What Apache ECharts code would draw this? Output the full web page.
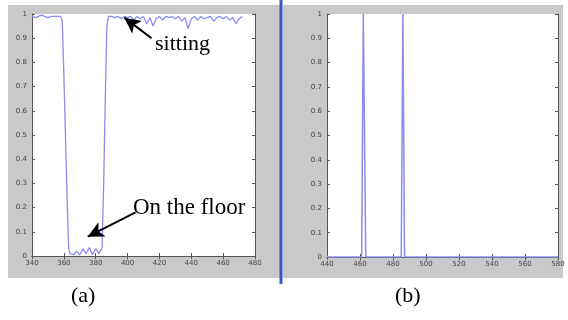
<!DOCTYPE html>
<html><head><meta charset="utf-8">
<script src="https://cdn.jsdelivr.net/npm/echarts@6/dist/echarts.min.js"></script>
<style>html,body{margin:0;padding:0;background:#fff}#c{width:568px;height:320px}</style>
</head><body><div id="c"></div>
<script>
const leftX = [340,342,344,346,348,350,352,354,356,358,359,360,361,362,363,364,366,368,370,372,374,376,378,380,382,384,385,386,387,388,390,392,394,396,398,400,402,404,406,408,410,412,414,416,418,420,422,424,426,428,430,432,434,436,438,440,442,444,446,448,450,452,454,456,458,460,462,464,466,468,470,472];
const leftY = [0.99,0.985,0.99,0.995,0.99,0.985,0.99,0.99,0.99,0.99,0.97,0.75,0.5,0.25,0.03,0.01,0.005,0.02,0.005,0.03,0.01,0.035,0.005,0.03,0.01,0.035,0.3,0.65,0.95,0.99,0.99,0.985,0.99,0.98,0.99,0.985,0.99,0.975,0.99,0.98,0.99,0.96,0.985,0.95,0.98,0.99,0.975,0.99,0.985,0.99,0.98,0.99,0.97,0.985,0.94,0.98,0.99,0.975,0.99,0.98,0.985,0.99,0.97,0.985,0.99,0.98,0.99,0.975,0.985,0.96,0.98,0.99];
const rightX = [440,461,462,463.5,485,486,487,580];
const rightY = [0,0,1,0,0,1,0,0];
const leftTicks = [340,480,20];
const rightTicks = [440,580,20];
const yTicks = [0,1,0.1];
const labels = {a:'(a)', b:'(b)', sitting:'sitting', floor:'On the floor'};

const lineColor = '#8c8cf2';
function pairs(xs, ys){ return xs.map((x,i)=>[x, ys[i]]); }
function xAx(g, t, pos, show){
  return {type:'value', gridIndex:g, position:pos, min:t[0], max:t[1], interval:t[2],
    axisLine:{show:true, lineStyle:{color:'#555', width:1}},
    axisTick:{show:true, inside:true, length:3, lineStyle:{color:'#555'}},
    axisLabel:{show:show, fontSize:7, color:'#444', margin:4, fontFamily:'DejaVu Sans'},
    splitLine:{show:false}};
}
function yAx(g, pos, show){
  return {type:'value', gridIndex:g, position:pos, min:yTicks[0], max:yTicks[1], interval:yTicks[2],
    axisLine:{show:true, lineStyle:{color:'#555', width:1}},
    axisTick:{show:true, inside:true, length:3, lineStyle:{color:'#555'}},
    axisLabel:{show:show, fontSize:7, color:'#444', margin:5, fontFamily:'DejaVu Sans',
      formatter: v => (Math.round(v*10)/10).toString()},
    splitLine:{show:false}};
}
const chart = echarts.init(document.getElementById('c'), null, {renderer:'canvas'});
chart.setOption({
  animation:false,
  backgroundColor:'#fff',
  graphic:[
    {type:'rect', z:-10, shape:{x:8,y:5,width:272,height:273}, style:{fill:'#c9c9c9'}},
    {type:'rect', z:-10, shape:{x:283,y:5,width:280,height:273}, style:{fill:'#c9c9c9'}},
    {type:'rect', z:-9, shape:{x:279.5,y:0,width:3,height:284}, style:{fill:'#3a55c0'}},
    {type:'text', left:155, top:33, style:{text:labels.sitting, font:'22px "Liberation Serif"', fill:'#000'}},
    {type:'text', left:133, top:196, style:{text:labels.floor, font:'23px "Liberation Serif"', fill:'#000'}},
    {type:'text', left:71, top:285, style:{text:labels.a, font:'22px "Liberation Serif"', fill:'#000'}},
    {type:'text', left:395, top:285, style:{text:labels.b, font:'22px "Liberation Serif"', fill:'#000'}}
  ],
  grid:[
    {left:32, top:14, width:223, height:242, show:true, backgroundColor:'#fff', borderWidth:0},
    {left:327, top:14, width:231, height:243, show:true, backgroundColor:'#fff', borderWidth:0}
  ],
  xAxis:[xAx(0,leftTicks,'bottom',true), xAx(0,leftTicks,'top',false),
         xAx(1,rightTicks,'bottom',true), xAx(1,rightTicks,'top',false)],
  yAxis:[yAx(0,'left',true), yAx(0,'right',false), yAx(1,'left',true), yAx(1,'right',false)],
  series:[
    {type:'line', xAxisIndex:0, yAxisIndex:0, data:pairs(leftX,leftY), showSymbol:false,
      lineStyle:{color:lineColor, width:1.3},
      markLine:{silent:true, symbol:['none','arrow'], symbolSize:[12,16], label:{show:false},
        lineStyle:{color:'#000', width:2, type:'solid'},
        data:[
          [{coord:[415,0.90]},{coord:[398,0.985]}],
          [{coord:[405,0.18]},{coord:[375,0.08]}]
        ]}},
    {type:'line', xAxisIndex:2, yAxisIndex:2, data:pairs(rightX,rightY), showSymbol:false,
      lineStyle:{color:lineColor, width:1.5}}
  ]
});
</script></body></html>
